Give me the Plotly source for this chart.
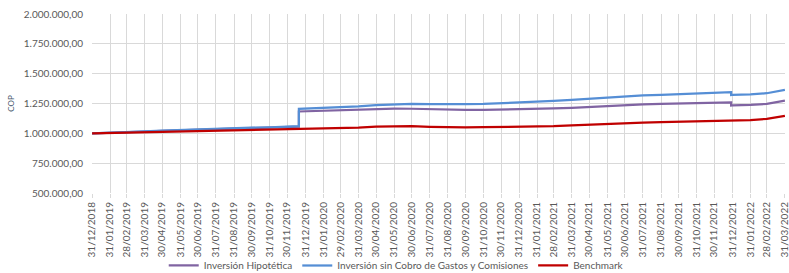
import plotly.graph_objects as go
from datetime import datetime

# Tick labels (end of month)
tick_labels = [
    "31/12/2018", "31/01/2019", "28/02/2019", "31/03/2019", "30/04/2019", "31/05/2019",
    "30/06/2019", "31/07/2019", "31/08/2019", "30/09/2019", "31/10/2019", "30/11/2019",
    "31/12/2019", "31/01/2020", "29/02/2020", "31/03/2020", "30/04/2020", "31/05/2020",
    "30/06/2020", "31/07/2020", "31/08/2020", "30/09/2020", "31/10/2020", "30/11/2020",
    "31/12/2020", "31/01/2021", "28/02/2021", "31/03/2021", "30/04/2021", "31/05/2021",
    "30/06/2021", "31/07/2021", "31/08/2021", "30/09/2021", "31/10/2021", "30/11/2021",
    "31/12/2021", "31/01/2022", "28/02/2022", "31/03/2022",
]

dates = [
    "2018-12-31", "2019-01-31", "2019-02-28", "2019-03-31", "2019-04-30", "2019-05-31",
    "2019-06-30", "2019-07-31", "2019-08-31", "2019-09-30", "2019-10-31", "2019-11-30",
    "2019-12-20", "2019-12-20",
    "2019-12-31",
    "2020-01-31", "2020-02-29", "2020-03-31", "2020-04-30", "2020-05-31", "2020-06-30",
    "2020-07-31", "2020-08-31", "2020-09-30", "2020-10-31", "2020-11-30",
    "2020-12-31",
    "2021-01-31", "2021-02-28", "2021-03-31", "2021-04-30", "2021-05-31", "2021-06-30",
    "2021-07-31", "2021-08-31", "2021-09-30", "2021-10-31", "2021-11-30",
    "2021-12-29", "2021-12-29",
    "2021-12-31", "2022-01-31", "2022-02-28", "2022-03-31",
]

inversion_hipotetica = [
    1000000, 1003000, 1008000, 1014000, 1020000, 1025000, 1030000, 1035000, 1039000, 1043000, 1047000, 1052000,
    1056000, 1183000,
    1185000,
    1188000, 1192000, 1197000, 1204000, 1207000, 1206000, 1202000, 1198000, 1196000, 1197000, 1199000,
    1201000,
    1204000, 1209000, 1214000, 1222000, 1230000, 1240000, 1243000, 1246000, 1250000, 1254000, 1257000,
    1259000, 1234000,
    1235000, 1238000, 1247000, 1275000,
]

inversion_sin_cobro = [
    1000000, 1004000, 1010000, 1017000, 1023000, 1029000, 1034000, 1039000, 1043000, 1047000, 1051000, 1056000,
    1060000, 1205000,
    1207000,
    1213000, 1218000, 1226000, 1236000, 1243000, 1246000, 1245000, 1243000, 1244000, 1246000, 1251000,
    1257000,
    1262000, 1272000, 1280000, 1290000, 1300000, 1313000, 1318000, 1322000, 1328000, 1335000, 1341000,
    1345000, 1322000,
    1323000, 1327000, 1336000, 1364000,
]

benchmark = [
    1000000, 1003000, 1007000, 1011000, 1015000, 1019000, 1022000, 1025000, 1028000, 1030000, 1032000, 1034000,
    1035500, 1035500,
    1036000,
    1038000, 1042000, 1048000, 1056000, 1060000, 1060000, 1055000, 1051000, 1050000, 1052000, 1054000,
    1054000,
    1055000, 1060000, 1066000, 1072000, 1079000, 1088000, 1090000, 1093000, 1096000, 1099000, 1102000,
    1104000, 1104000,
    1105000, 1110000, 1122000, 1146000,
]

y_ticks = [500000, 750000, 1000000, 1250000, 1500000, 1750000, 2000000]

tick_vals = [datetime.strptime(t, "%d/%m/%Y").strftime("%Y-%m-%d") for t in tick_labels]

FONT = "Lato"
fig = go.Figure()
fig.add_trace(go.Scatter(x=dates, y=inversion_hipotetica, mode="lines", name="Inversión Hipotética",
                         line=dict(color="#8064A2", width=2.25)))
fig.add_trace(go.Scatter(x=dates, y=inversion_sin_cobro, mode="lines",
                         name="Inversión sin Cobro de Gastos y Comisiones",
                         line=dict(color="#558ED5", width=2.25)))
fig.add_trace(go.Scatter(x=dates, y=benchmark, mode="lines", name="Benchmark",
                         line=dict(color="#C00000", width=2.25)))

fig.update_layout(
    width=789, height=273,
    margin=dict(l=92, r=4, t=14, b=80, autoexpand=False),
    paper_bgcolor="white", plot_bgcolor="white",
    separators=",.",
    font=dict(family=FONT, size=10, color="#595959"),
    showlegend=True,
    legend=dict(orientation="h", x=0.439, xanchor="center", y=-0.405, yanchor="middle",
                font=dict(family=FONT, size=10, color="#595959"), bgcolor="rgba(0,0,0,0)",
                itemwidth=30),
    xaxis=dict(
        type="date", range=["2018-12-30 20:00", "2022-03-31 04:00"], automargin=False,
        tickmode="array", tickvals=tick_vals, ticktext=tick_labels, tickangle=-90,
        ticklabeloverflow="allow",
        showgrid=True, gridcolor="#D9D9D9", gridwidth=1,
        ticks="outside", ticklen=4, tickcolor="#D9D9D9",
        showline=False, zeroline=False,
        tickfont=dict(family=FONT, size=10, color="#595959"),
    ),
    yaxis=dict(
        range=[500000, 2000000], tickmode="array", tickvals=y_ticks, tickformat=",.2f",
        automargin=False, ticklabeloverflow="allow",
        showgrid=True, gridcolor="#D9D9D9", gridwidth=1, zeroline=False, showline=False,
        ticks="", ticklabelstandoff=8,
        title=dict(text="COP", font=dict(family=FONT, size=8, color="#44546A"), standoff=7),
        tickfont=dict(family=FONT, size=10, color="#595959"),
    ),
)

fig.write_html(
    "out.html",
    config={"displayModeBar": False},
    post_script="document.body.style.margin='0';document.body.style.overflow='hidden';",
)
